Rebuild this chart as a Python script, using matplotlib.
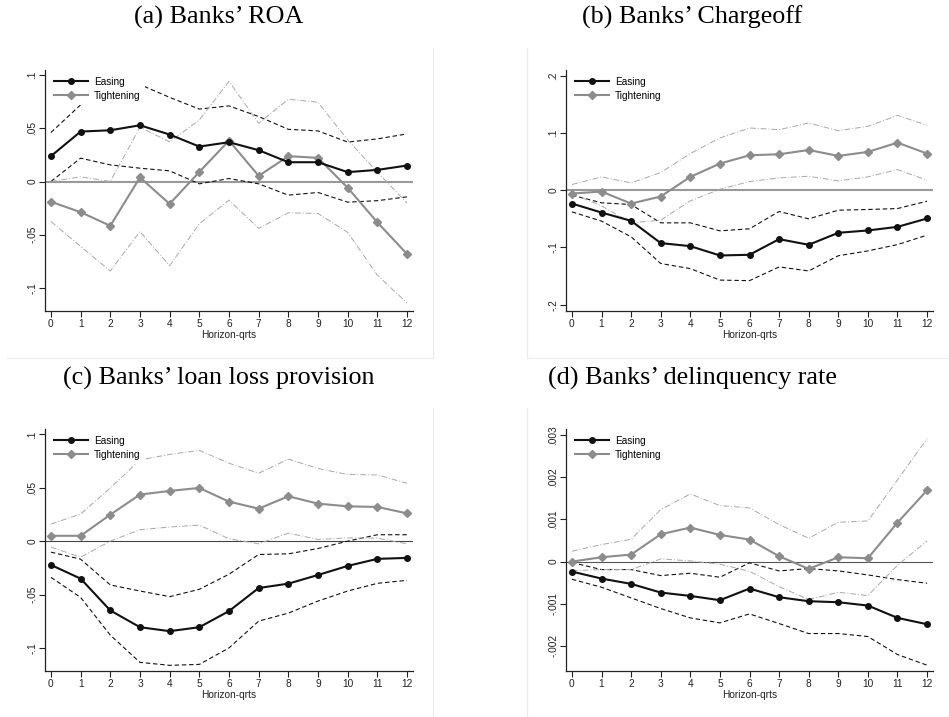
"""
Impulse responses of bank outcomes to easing vs. tightening shocks, 0-12 quarters.
"""

import matplotlib
matplotlib.use("Agg")
import matplotlib.pyplot as plt
from matplotlib.lines import Line2D
from matplotlib.ticker import FixedLocator, FuncFormatter

horizon = list(range(13))

# (a) ROA
roa_ease = [0.0238, 0.0469, 0.0481, 0.0528, 0.0441, 0.0328, 0.0369, 0.0294, 0.0181, 0.0181, 0.0088, 0.0109, 0.0150]
roa_ease_hi = [0.0460, 0.0720, 0.0850, 0.0910, 0.0790, 0.0680, 0.0710, 0.0610, 0.0490, 0.0475, 0.0370, 0.0400, 0.0447]
roa_ease_lo = [0.0000, 0.0219, 0.0156, 0.0125, 0.0100, -0.0022, 0.0028, -0.0022, -0.0128, -0.0103, -0.0194, -0.0180, -0.0144]
roa_tight = [-0.0190, -0.0288, -0.0416, 0.0038, -0.0210, 0.0090, 0.0384, 0.0053, 0.0238, 0.0222, -0.0059, -0.0384, -0.0681]
roa_tight_hi = [0.0000, 0.0044, 0.0000, 0.0510, 0.0372, 0.0578, 0.0940, 0.0547, 0.0772, 0.0744, 0.0390, 0.0088, -0.0203]
roa_tight_lo = [-0.0375, -0.0610, -0.0840, -0.0470, -0.0790, -0.0397, -0.0175, -0.0440, -0.0294, -0.0300, -0.0478, -0.0880, -0.1140]

# (b) Chargeoff
co_ease = [-0.0233, -0.0390, -0.0535, -0.0924, -0.0977, -0.1140, -0.1128, -0.0855, -0.0953, -0.0744, -0.0703, -0.0640, -0.0494]
co_ease_hi = [-0.0087, -0.0220, -0.0250, -0.0570, -0.0570, -0.0710, -0.0674, -0.0372, -0.0500, -0.0349, -0.0337, -0.0320, -0.0192]
co_ease_lo = [-0.0378, -0.0540, -0.0814, -0.1280, -0.1370, -0.1570, -0.1580, -0.1340, -0.1410, -0.1145, -0.1060, -0.0950, -0.0785]
co_tight = [-0.0058, -0.0023, -0.0233, -0.0110, 0.0233, 0.0465, 0.0610, 0.0628, 0.0703, 0.0599, 0.0669, 0.0831, 0.0640]
co_tight_hi = [0.0099, 0.0233, 0.0128, 0.0308, 0.0640, 0.0913, 0.1087, 0.1058, 0.1174, 0.1040, 0.1116, 0.1308, 0.1134]
co_tight_lo = [-0.0058, -0.0273, -0.0570, -0.0523, -0.0186, 0.0017, 0.0151, 0.0215, 0.0244, 0.0163, 0.0233, 0.0360, 0.0174]

# (c) Loan loss provision
llp_ease = [-0.0223, -0.0351, -0.0649, -0.0806, -0.0843, -0.0806, -0.0655, -0.0439, -0.0398, -0.0317, -0.0232, -0.0166, -0.0157]
llp_ease_hi = [-0.0103, -0.0169, -0.0410, -0.0467, -0.0520, -0.0451, -0.0310, -0.0125, -0.0119, -0.0069, 0.0000, 0.0060, 0.0060]
llp_ease_lo = [-0.0339, -0.0527, -0.0880, -0.1135, -0.1163, -0.1154, -0.1000, -0.0749, -0.0674, -0.0561, -0.0467, -0.0395, -0.0367]
llp_tight = [0.0050, 0.0050, 0.0248, 0.0436, 0.0470, 0.0498, 0.0370, 0.0304, 0.0420, 0.0351, 0.0326, 0.0320, 0.0260]
llp_tight_hi = [0.0160, 0.0254, 0.0498, 0.0760, 0.0812, 0.0850, 0.0730, 0.0636, 0.0768, 0.0680, 0.0624, 0.0620, 0.0542]
llp_tight_lo = [-0.0056, -0.0150, 0.0000, 0.0107, 0.0132, 0.0150, 0.0022, -0.0025, 0.0075, 0.0016, 0.0030, 0.0028, -0.0025]

# (d) Delinquency rate
dq_ease = [-0.000238, -0.000404, -0.000530, -0.000736, -0.000816, -0.000918, -0.000641, -0.000847, -0.000942, -0.000966, -0.001045, -0.001338, -0.001489]
dq_ease_hi = [-0.000024, -0.000190, -0.000190, -0.000333, -0.000277, -0.000372, -0.000030, -0.000222, -0.000166, -0.000222, -0.000317, -0.000428, -0.000515]
dq_ease_lo = [-0.000420, -0.000610, -0.000863, -0.001116, -0.001338, -0.001457, -0.001243, -0.001473, -0.001710, -0.001710, -0.001781, -0.002209, -0.002462]
dq_tight = [0.000000, 0.000103, 0.000166, 0.000649, 0.000808, 0.000633, 0.000523, 0.000127, -0.000174, 0.000103, 0.000079, 0.000926, 0.001694]
dq_tight_hi = [0.000245, 0.000404, 0.000530, 0.001235, 0.001607, 0.001330, 0.001275, 0.000879, 0.000554, 0.000934, 0.000966, 0.001940, 0.002922]
dq_tight_lo = [-0.000214, -0.000190, -0.000190, 0.000063, 0.000016, -0.000063, -0.000230, -0.000594, -0.000903, -0.000728, -0.000808, -0.000087, 0.000491]

titles = ["(a) Banks\u2019 ROA", "(b) Banks\u2019 Chargeoff",
          "(c) Banks\u2019 loan loss provision", "(d) Banks\u2019 delinquency rate"]
yticks = [[-0.1, -0.05, 0, 0.05, 0.1],
          [-0.2, -0.1, 0, 0.1, 0.2],
          [-0.1, -0.05, 0, 0.05, 0.1],
          [-0.002, -0.001, 0, 0.001, 0.002, 0.003]]
ylims = [(-0.1216, 0.1047), (-0.211, 0.21), (-0.1216, 0.105), (-0.0026, 0.00315)]

EASE = "#111111"
TIGHT = "#8c8c8c"
TIGHT_CI = "#a8a8a8"
FRAME = "#ececec"


def stata_fmt(v, _pos=None):
    """Stata-style tick label: drop the leading zero ('.05', '-.1')."""
    if abs(v) < 1e-12:
        return "0"
    s = f"{v:g}"
    return s.replace("-0.", "-.").replace("0.", ".", 1) if s.startswith(("0.", "-0.")) else s


def draw_panel(ax, ease, ease_hi, ease_lo, tight, tight_hi, tight_lo,
               ticks, ylim, zero_style):
    ax.axhline(0, zorder=1, **zero_style)
    ax.plot(horizon, ease_hi, color=EASE, lw=0.8, ls=(0, (4, 2.5)), zorder=2)
    ax.plot(horizon, ease_lo, color=EASE, lw=0.8, ls=(0, (4, 2.5)), zorder=2)
    ax.plot(horizon, tight_hi, color=TIGHT_CI, lw=0.7, ls=(0, (6, 2, 1, 2)), zorder=2)
    ax.plot(horizon, tight_lo, color=TIGHT_CI, lw=0.7, ls=(0, (6, 2, 1, 2)), zorder=2)
    ax.plot(horizon, ease, color=EASE, lw=1.5, marker="o", ms=4.0,
            label="Easing", zorder=4)
    ax.plot(horizon, tight, color=TIGHT, lw=1.5, marker="D", ms=3.6,
            label="Tightening", zorder=3)

    ax.set_xlim(-0.2, 12.2)
    ax.set_ylim(*ylim)
    ax.xaxis.set_major_locator(FixedLocator(horizon))
    ax.yaxis.set_major_locator(FixedLocator(ticks))
    ax.yaxis.set_major_formatter(FuncFormatter(stata_fmt))
    ax.tick_params(length=4, width=0.8, color="#222222", labelsize=7.3,
                   labelcolor="#222222", pad=1.5)
    ax.tick_params(axis="y", labelrotation=90)
    for lab in ax.get_yticklabels():
        lab.set_va("center")
    for side in ("top", "right"):
        ax.spines[side].set_visible(False)
    for side in ("left", "bottom"):
        ax.spines[side].set_linewidth(0.9)
        ax.spines[side].set_color("#222222")
    ax.set_xlabel("Horizon-qrts", fontsize=7.3, color="#222222", labelpad=1)

    leg = ax.legend(loc="upper left", bbox_to_anchor=(0.0, 1.01), fontsize=7.2,
                    handlelength=3.4, handletextpad=0.6, labelspacing=0.4,
                    borderpad=0.4, frameon=True, facecolor="white",
                    edgecolor="none", framealpha=1.0, fancybox=False)
    leg.set_zorder(5)


plt.rcParams["font.family"] = ["Liberation Sans", "DejaVu Sans"]
fig = plt.figure(figsize=(9.49, 7.17), dpi=100)

W, H = 949, 717
# axes boxes in pixels: (left, top, right, bottom)
boxes = [(45, 70, 413, 311), (566, 70, 933, 311),
         (45, 429, 413, 671), (566, 429, 933, 671)]
series = [
    (roa_ease, roa_ease_hi, roa_ease_lo, roa_tight, roa_tight_hi, roa_tight_lo),
    (co_ease, co_ease_hi, co_ease_lo, co_tight, co_tight_hi, co_tight_lo),
    (llp_ease, llp_ease_hi, llp_ease_lo, llp_tight, llp_tight_hi, llp_tight_lo),
    (dq_ease, dq_ease_hi, dq_ease_lo, dq_tight, dq_tight_hi, dq_tight_lo),
]
zero_styles = [dict(color="#999999", lw=1.5), dict(color="#999999", lw=1.5),
               dict(color="#444444", lw=0.8), dict(color="#555555", lw=0.8)]
title_pos = [(219, 17), (692, 17), (219, 378), (692, 378)]

# light frames around each graph region
frame_lines = [
    ((7, 433), (358, 358)), ((433, 433), (48, 358)),
    ((527, 949), (358, 358)), ((527, 527), (48, 358)),
    ((433, 433), (408, 717)), ((527, 527), (408, 717)),
]
for xs, ys in frame_lines:
    fig.add_artist(Line2D([x / W for x in xs], [1 - y / H for y in ys],
                          color=FRAME, lw=0.8))

for i, (l, t, r, b) in enumerate(boxes):
    ax = fig.add_axes([l / W, 1 - b / H, (r - l) / W, (b - t) / H])
    draw_panel(ax, *series[i], yticks[i], ylims[i], zero_styles[i])
    tx, ty = title_pos[i]
    fig.text(tx / W, 1 - ty / H, titles[i], ha="center", va="center",
             fontsize=18.8, family=["Liberation Serif", "DejaVu Serif"])

fig.savefig("out.png", dpi=100)
